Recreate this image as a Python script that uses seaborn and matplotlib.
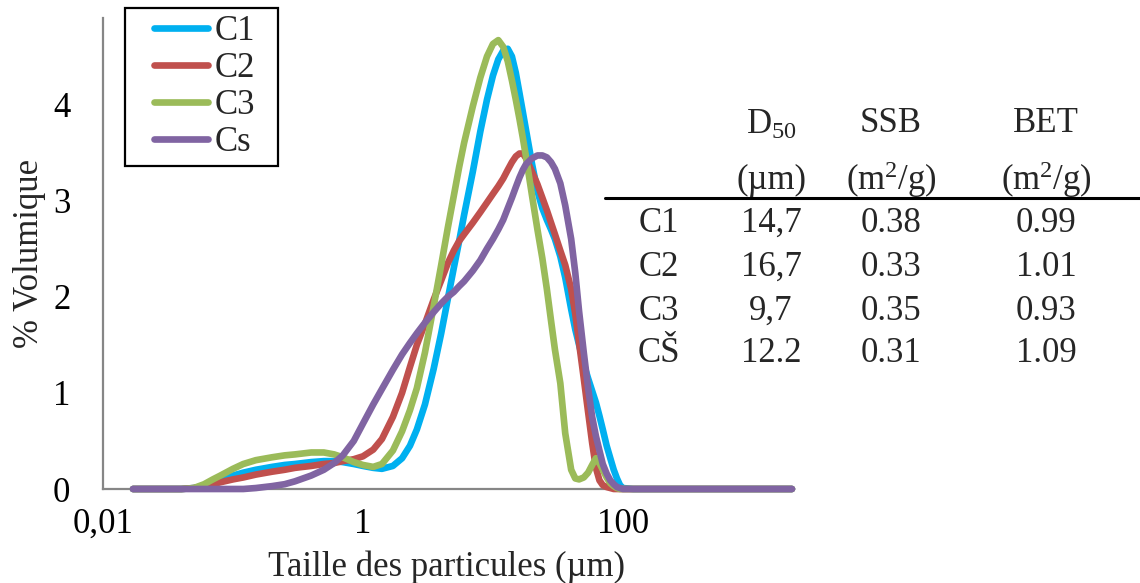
import numpy as np
import pandas as pd
import matplotlib
matplotlib.use("Agg")
import matplotlib.pyplot as plt
from matplotlib.lines import Line2D
from matplotlib.legend_handler import HandlerLine2D
import seaborn as sns

# ---------------- data ----------------
sizes = [0.017, 0.03, 0.04, 0.05, 0.06, 0.07, 0.08, 0.1, 0.12, 0.15, 0.2, 0.25, 0.3,
         0.4, 0.5, 0.6, 0.7, 0.85, 1.0, 1.2, 1.4, 1.7, 2, 2.3, 2.6, 3, 3.5, 4, 4.5,
         5, 5.5, 6, 7, 8, 9, 10, 11, 12, 13, 14, 15, 16, 17, 18, 20, 22, 24, 26,
         28, 30, 33, 36, 40, 43, 46, 50, 54, 58, 62, 66, 70, 75, 80, 85, 90, 95,
         100, 120, 2000]

c1 = [0, 0, 0, 0.01, 0.03, 0.06, 0.09, 0.14, 0.17, 0.2, 0.23, 0.25, 0.26,
      0.28, 0.29, 0.29, 0.28, 0.26, 0.24, 0.22, 0.21, 0.24, 0.32, 0.45, 0.62, 0.88, 1.25, 1.62, 1.98,
      2.3, 2.58, 2.85, 3.3, 3.72, 4.05, 4.3, 4.47, 4.56, 4.58, 4.5, 4.33, 4.12, 3.92, 3.73, 3.38, 3.1, 2.92, 2.8,
      2.7, 2.6, 2.42, 2.2, 1.87, 1.66, 1.5, 1.3, 1.15, 1.02, 0.9, 0.76, 0.62, 0.45, 0.32, 0.2, 0.11, 0.04,
      0.01, 0, 0]

c2 = [0, 0, 0, 0.01, 0.03, 0.05, 0.07, 0.1, 0.12, 0.15, 0.18, 0.2, 0.22,
      0.24, 0.26, 0.27, 0.29, 0.31, 0.34, 0.41, 0.52, 0.75, 1.0, 1.27, 1.5, 1.72, 1.97, 2.17, 2.35,
      2.48, 2.58, 2.65, 2.77, 2.88, 2.98, 3.07, 3.15, 3.23, 3.32, 3.4, 3.46, 3.49, 3.49, 3.44, 3.3, 3.17, 3.03, 2.9,
      2.77, 2.65, 2.48, 2.33, 2.08, 1.82, 1.52, 1.15, 0.8, 0.48, 0.22, 0.09, 0.04, 0.02, 0.01, 0, 0, 0,
      0, 0, 0]

c3 = [0, 0, 0, 0.01, 0.05, 0.1, 0.14, 0.21, 0.26, 0.3, 0.33, 0.35, 0.36,
      0.38, 0.38, 0.36, 0.33, 0.28, 0.25, 0.23, 0.26, 0.4, 0.6, 0.82, 1.05, 1.42, 1.9, 2.33, 2.72,
      3.05, 3.35, 3.6, 3.98, 4.28, 4.5, 4.63, 4.67, 4.6, 4.45, 4.25, 4.05, 3.85, 3.65, 3.45, 3.05, 2.7, 2.4, 2.08,
      1.75, 1.45, 1.1, 0.58, 0.2, 0.11, 0.1, 0.12, 0.17, 0.25, 0.32, 0.27, 0.2, 0.12, 0.06, 0.03, 0.01, 0,
      0, 0, 0]

cs = [0, 0, 0, 0, 0, 0, 0, 0, 0, 0.01, 0.03, 0.05, 0.08,
      0.14, 0.2, 0.27, 0.35, 0.5, 0.68, 0.88, 1.04, 1.24, 1.4, 1.52, 1.62, 1.73, 1.84, 1.93, 2.0,
      2.05, 2.11, 2.16, 2.27, 2.38, 2.5, 2.6, 2.7, 2.8, 2.92, 3.03, 3.14, 3.24, 3.32, 3.38, 3.44, 3.47, 3.47, 3.45,
      3.4, 3.33, 3.18, 2.95, 2.6, 2.25, 1.85, 1.42, 1.05, 0.75, 0.55, 0.4, 0.26, 0.16, 0.09, 0.05, 0.02, 0.01,
      0, 0, 0]

series_names = ["C1", "C2", "C3", "Cs"]
series_colors = ["#00B0F0", "#C0504D", "#9BBB59", "#8064A2"]

x_major = [0.01, 1, 100]
x_major_labels = ["0,01", "1", "100"]
x_minor = [0.1, 0.2, 0.3, 0.4, 0.5, 0.6, 0.7, 0.8, 0.9,
           10, 20, 30, 40, 50, 60, 70, 80, 90, 1000, 2000]
y_major = [0, 1, 2, 3, 4]
y_minor = [0.25, 0.5, 0.75, 1.25, 1.5, 1.75, 2.25, 2.5, 2.75,
           3.25, 3.5, 3.75, 4.25, 4.5, 4.75]

table_rows = ["C1", "C2", "C3", "CŠ"]
table_d50 = ["14,7", "16,7", "9,7", "12.2"]
table_ssb = ["0.38", "0.33", "0.35", "0.31"]
table_bet = ["0.99", "1.01", "0.93", "1.09"]

# ---------------- style ----------------
sns.set_theme(style="white")
plt.rcParams["font.family"] = ["Liberation Serif", "DejaVu Serif"]
plt.rcParams["mathtext.fontset"] = "custom"
plt.rcParams["mathtext.rm"] = "Liberation Serif"
plt.rcParams["mathtext.it"] = "Liberation Serif:italic"

FS = 25
W, H = 1140, 583
fig = plt.figure(figsize=(W / 100, H / 100), dpi=100)
AX_L, AX_R, AX_T, AX_B = 103, 792, 18, 489
ax = fig.add_axes([AX_L / W, 1 - AX_B / H, (AX_R - AX_L) / W, (AX_B - AX_T) / H])

df = pd.DataFrame({
    "size": sizes * 4,
    "vol": c1 + c2 + c3 + cs,
    "serie": sum([[n] * len(sizes) for n in series_names], []),
})

sns.lineplot(data=df, x="size", y="vol", hue="serie", hue_order=series_names,
             palette=series_colors, linewidth=4.8, sort=False, legend=False,
             ax=ax, solid_capstyle="round", solid_joinstyle="round", clip_on=False)

ax.set_xscale("log")
ax.set_xlim(0.01, 2000)
ax.set_ylim(0, 4.9)
ax.set_xticks(x_major)
ax.set_xticklabels(x_major_labels)
ax.set_xticks(x_minor, minor=True)
ax.set_xticklabels([], minor=True)
ax.set_yticks(y_major)
ax.set_yticks(y_minor, minor=True)
ax.set_yticklabels([str(v) for v in y_major])

axis_col = "#868686"
for s in ["top", "right"]:
    ax.spines[s].set_visible(False)
for s in ["left", "bottom"]:
    ax.spines[s].set_color(axis_col)
    ax.spines[s].set_linewidth(1.6)
    ax.spines[s].set_zorder(0.5)

ax.tick_params(axis="both", which="major", direction="inout", length=15,
               width=1.6, color=axis_col, labelsize=FS, labelcolor="black")
ax.tick_params(axis="both", which="minor", direction="out", length=5.5,
               width=1.6, color=axis_col)
ax.tick_params(axis="x", which="major", pad=6)
ax.tick_params(axis="y", which="major", pad=16)

ax.set_xlabel("Taille des particules (µm)", fontsize=FS)
ax.set_ylabel("% Volumique", fontsize=FS)
pw, ph = AX_R - AX_L, AX_B - AX_T
ax.xaxis.set_label_coords((447 - AX_L) / pw, -(551 - AX_B) / ph)
ax.yaxis.set_label_coords(-(AX_L - 46) / pw, 0.5)

handles = [Line2D([], [], color=c, lw=4.8, solid_capstyle="round") for c in series_colors]
leg = fig.legend(handles, series_names, loc="upper left",
                 bbox_to_anchor=(125 / W, 1 - 163 / H, 153 / W, 155 / H),
                 bbox_transform=fig.transFigure, mode="expand",
                 borderaxespad=0, fontsize=FS, frameon=True, fancybox=False,
                 handlelength=2.19, handletextpad=0.2, labelspacing=0.12,
                 borderpad=0.2, edgecolor="black", framealpha=1,
                 handler_map={Line2D: HandlerLine2D(xpad=0.63)})
leg.get_frame().set_linewidth(1.6)
leg.get_frame().set_edgecolor("black")

# ---------------- table ----------------
col_x = [659, 771, 891, 1046]
fig.text(col_x[1] / W, 1 - 125 / H, r"D$_{50}$", ha="center", va="center", fontsize=FS)
fig.text(col_x[2] / W, 1 - 123 / H, "SSB", ha="center", va="center", fontsize=FS)
fig.text(col_x[3] / W, 1 - 123 / H, "BET", ha="center", va="center", fontsize=FS)
fig.text(col_x[1] / W, 1 - 180 / H, "(µm)", ha="center", va="center", fontsize=FS)
fig.text(col_x[2] / W, 1 - 180 / H, r"(m$^{2}$/g)", ha="center", va="center", fontsize=FS)
fig.text(col_x[3] / W, 1 - 180 / H, r"(m$^{2}$/g)", ha="center", va="center", fontsize=FS)
fig.add_artist(Line2D([605 / W, 1.0], [1 - 198 / H] * 2, color="black", lw=2.2,
                      transform=fig.transFigure))
row_y = [223, 267, 311, 354]
for i in range(len(table_rows)):
    yy = 1 - row_y[i] / H
    fig.text(col_x[0] / W, yy, table_rows[i], ha="center", va="center", fontsize=FS)
    fig.text(col_x[1] / W, yy, table_d50[i], ha="center", va="center", fontsize=FS)
    fig.text(col_x[2] / W, yy, table_ssb[i], ha="center", va="center", fontsize=FS)
    fig.text(col_x[3] / W, yy, table_bet[i], ha="center", va="center", fontsize=FS)

fig.savefig("out.png", dpi=100, facecolor="white")
